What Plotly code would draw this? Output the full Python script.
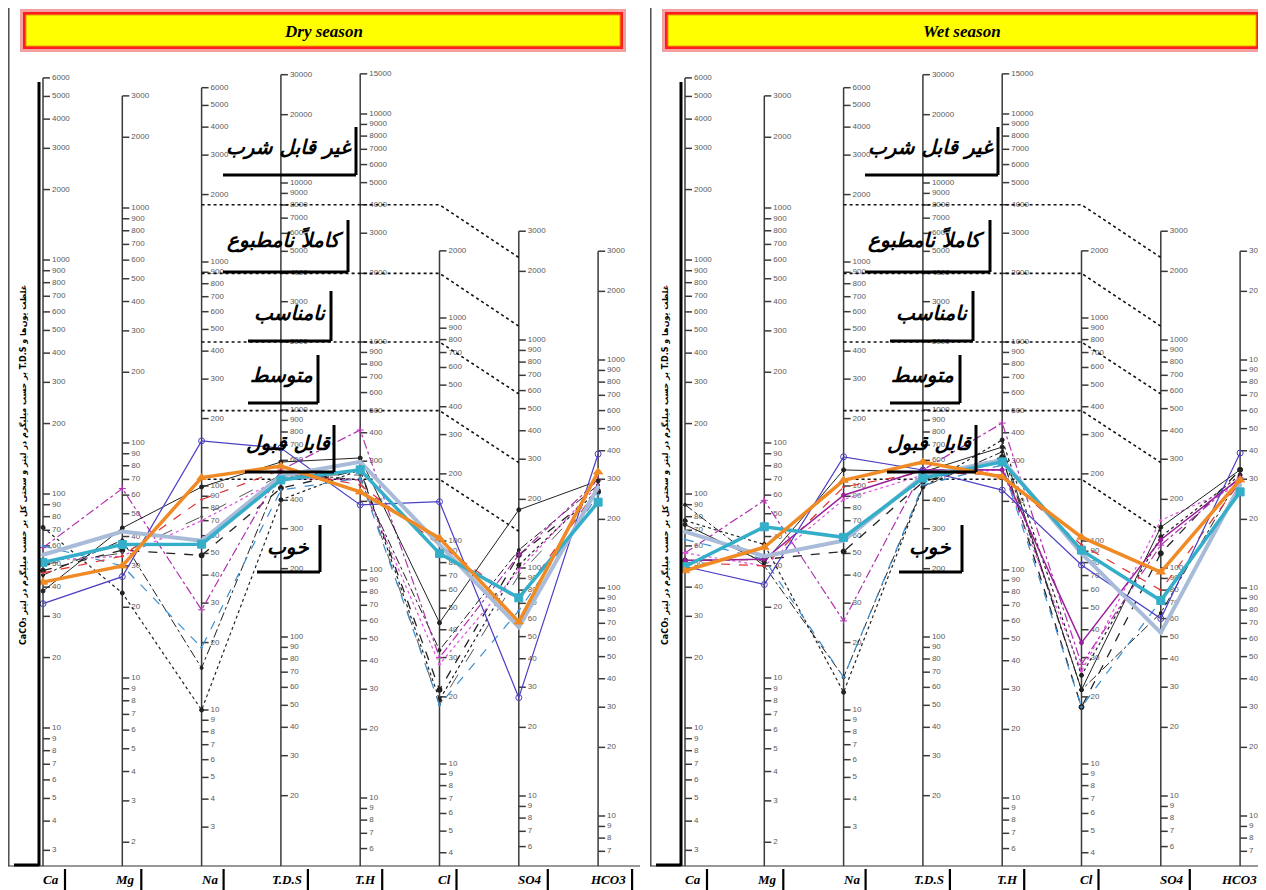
import math
import plotly.graph_objects as go

# ---------------- categories & axis scales ----------------
CATEGORIES = ["Ca", "Mg", "Na", "T.D.S", "T.H", "Cl", "SO4", "HCO3"]
# position (diagram units) of the 1000 mg/L tick and length of one decade, per axis
AXIS_REF_1000 = [260, 208, 262, 410, 342, 318, 340, 360]
AXIS_DECADE = [234, 235, 224, 227, 228, 223, 228, 228]
AXIS_X0, AXIS_STEP = 43, 79.3
PAGE_MARGIN = 8          # browser body margin around the figure
PANEL_SPLIT = 642
BOTTOM = 866

HUNDREDS = [1000, 900, 800, 700, 600, 500, 400, 300, 200]
TENS = [100, 90, 80, 70, 60, 50, 40, 30, 20]
TICKS_CA = [6000, 5000, 4000, 3000, 2000] + HUNDREDS + TENS + [10, 9, 8, 7, 6, 5, 4, 3]
TICKS_MG = [3000, 2000] + HUNDREDS + TENS + [10, 9, 8, 7, 6, 5, 4, 3, 2]
TICKS_NA = [6000, 5000, 4000, 3000, 2000] + HUNDREDS + TENS + [10, 9, 8, 7, 6, 5, 4, 3]
TICKS_TDS = [30000, 20000, 10000, 9000, 8000, 7000, 6000, 5000, 4000, 3000, 2000] + HUNDREDS + TENS
TICKS_TH = [15000, 10000, 9000, 8000, 7000, 6000, 5000, 4000, 3000, 2000] + HUNDREDS + TENS + [10, 9, 8, 7, 6]
TICKS_CL = [2000] + HUNDREDS + TENS + [10, 9, 8, 7, 6, 5, 4]
TICKS_SO4 = [3000, 2000] + HUNDREDS + TENS + [10, 9, 8, 7, 6]
TICKS_HCO3 = [3000, 2000] + HUNDREDS + TENS + [10, 9, 8, 7]
AXIS_TICKS = [TICKS_CA, TICKS_MG, TICKS_NA, TICKS_TDS, TICKS_TH, TICKS_CL, TICKS_SO4, TICKS_HCO3]

# potability class limits (mg/L) on T.H and SO4 axes
TH_LIMITS = [250, 500, 1000, 2000, 4000]
SO4_LIMITS = [145, 290, 580, 1150, 2300]

ZONE_LABELS = ["غیر قابل شرب", "کاملاً نامطبوع", "نامناسب", "متوسط", "قابل قبول", "خوب"]

TITLES = ["Dry season", "Wet season"]
Y_TITLE = "\u202bغلظت یون‌ها و T.D.S بر حسب میلیگرم در لیتر و سختی کل بر حسب میلیگرم در لیتر CaCO₃\u202c"

# ---------------- data (mg/L): Ca, Mg, Na, TDS, TH, Cl, SO4, HCO3 ----------------
DRY_ORANGE = [42, 30, 109, 566, 220, 103, 58, 323]
DRY_TEAL = [51, 37, 55, 492, 275, 88, 74, 238]
DRY_STEEL = [55, 42, 57, 512, 298, 96, 55, 277]
DRY_PURPLE = [34, 27, 159, 680, 193, 150, 27, 387]
DRY_BLACK = [38.5, 43.5, 99, 590, 310, 43, 180, 295]
DRY_BLACK_DOT = [72, 23, 10, 402, 275, 19.4, 103, 269]
DRY_BLACK_DASH = [47, 35, 49, 453, 275, 21.5, 114, 264]
DRY_BLACK_DASHDOT = [45, 38.6, 15.4, 533, 248, 32.4, 120, 283]
DRY_MAGENTA = [59, 64, 28, 544, 411, 30, 114, 298]
DRY_PINK = [52, 33, 70, 501, 248, 28, 98, 283]
DRY_SKY = [60, 30, 19, 444, 253, 18.4, 65, 256]
DRY_RED = [46, 33, 87, 544, 236, 96, 72, 275]
DRY_GRAY = [50, 34, 73, 517, 261, 18.4, 93, 269]

WET_ORANGE = [47, 36, 106, 590, 256, 104, 96, 298]
WET_TEAL = [49, 44, 59, 501, 298, 91, 72, 264]
WET_STEEL = [69, 33, 57, 512, 304, 88, 52, 283]
WET_PURPLE = [49, 25, 135, 544, 224, 78, 60, 391]
WET_PLUM = [52, 32, 91, 544, 275, 35, 133, 304]
WET_BLACK = [74, 31, 118, 533, 346, 21.5, 151, 330]
WET_BLACK_DOT = [77, 37, 12, 458, 372, 25, 137, 313]
WET_BLACK_DASH = [52, 32, 51, 482, 313, 18, 116, 330]
WET_BLACK_DASHDOT = [90, 30, 14, 458, 330, 21.5, 63.5, 310]
WET_MAGENTA = [56, 57, 25, 544, 441, 28, 126, 304]
WET_PINK = [56, 30, 87, 517, 275, 26, 162, 283]
WET_SKY = [64, 32, 14, 467, 289, 18, 72, 269]
WET_RED = [51, 30, 99, 533, 261, 96, 80, 292]

STYLES = {
    "orange": dict(color="#f08a24", width=3.5, dash="solid", symbol="triangle-up", size=8),
    "teal": dict(color="#35aec9", width=3.5, dash="solid", symbol="square", size=8),
    "steel": dict(color="#a8bbd8", width=4, dash="solid", symbol="circle", size=3),
    "purple": dict(color="#4a3fc4", width=1.2, dash="solid", symbol="circle-open", size=6),
    "plum": dict(color="#9a1f9a", width=1.5, dash="solid", symbol="circle", size=4),
    "black": dict(color="#222222", width=1, dash="solid", symbol="circle", size=4),
    "black_dot": dict(color="#222222", width=1.2, dash="dot", symbol="circle", size=4),
    "black_dash": dict(color="#222222", width=1.3, dash="dash", symbol="circle", size=5),
    "black_dashdot": dict(color="#222222", width=1, dash="dashdot", symbol="circle", size=3),
    "magenta": dict(color="#b030b0", width=1.2, dash="dashdot", symbol="cross-thin-open", size=5),
    "pink": dict(color="#e050e0", width=1.2, dash="dot", symbol="circle", size=2),
    "sky": dict(color="#3b8fd0", width=1.2, dash="dash", symbol="circle", size=2),
    "red": dict(color="#e03030", width=1.2, dash="dash", symbol="circle", size=2),
    "gray": dict(color="#555555", width=1, dash="longdash", symbol="circle", size=2),
}

DRY_SERIES = [("black_dot", DRY_BLACK_DOT), ("black_dash", DRY_BLACK_DASH),
              ("black_dashdot", DRY_BLACK_DASHDOT), ("gray", DRY_GRAY), ("magenta", DRY_MAGENTA),
              ("pink", DRY_PINK), ("sky", DRY_SKY), ("red", DRY_RED), ("black", DRY_BLACK),
              ("purple", DRY_PURPLE), ("steel", DRY_STEEL), ("teal", DRY_TEAL), ("orange", DRY_ORANGE)]
WET_SERIES = [("black_dot", WET_BLACK_DOT), ("black_dash", WET_BLACK_DASH),
              ("black_dashdot", WET_BLACK_DASHDOT), ("magenta", WET_MAGENTA), ("pink", WET_PINK),
              ("sky", WET_SKY), ("red", WET_RED), ("black", WET_BLACK), ("plum", WET_PLUM),
              ("purple", WET_PURPLE), ("steel", WET_STEEL), ("teal", WET_TEAL), ("orange", WET_ORANGE)]


def ypos(i, v):
    return AXIS_REF_1000[i] - AXIS_DECADE[i] * (math.log10(v) - 3)


def xpos(i):
    return AXIS_X0 + AXIS_STEP * i


fig = go.Figure()
shapes = []
annotations = []

for p in range(2):
    xa = "x" if p == 0 else "x2"
    right_edge = (PANEL_SPLIT if p == 0 else 1266 - PANEL_SPLIT)

    # --- axis lines and ticks ---
    lx, ly, tx, ty, txt = [], [], [], [], []
    for i, ticks in enumerate(AXIS_TICKS):
        x = xpos(i)
        lx += [x, x, None]
        ly += [ypos(i, max(ticks)), BOTTOM, None]
        for t in ticks:
            yt = ypos(i, t)
            lx += [x, x + 7, None]
            ly += [yt, yt, None]
            tx.append(x + 9)
            ty.append(yt)
            txt.append(str(t))
    fig.add_trace(go.Scatter(x=lx, y=ly, mode="lines", xaxis=xa, yaxis="y",
                             line=dict(color="#3a3a3a", width=1.5), hoverinfo="skip"))
    fig.add_trace(go.Scatter(x=tx, y=ty, mode="text", text=txt, textposition="middle right",
                             xaxis=xa, yaxis="y", hoverinfo="skip", cliponaxis=False,
                             textfont=dict(family="Liberation Sans", size=8, color="#5a5a5a")))

    # --- potability boundary dotted lines ---
    for thv, so4v in zip(TH_LIMITS, SO4_LIMITS):
        yth = ypos(4, thv)
        fig.add_trace(go.Scatter(x=[xpos(2), xpos(3), xpos(4), xpos(5), xpos(6)],
                                 y=[yth, yth, yth, yth, ypos(6, so4v)], mode="lines",
                                 xaxis=xa, yaxis="y", hoverinfo="skip",
                                 line=dict(color="#111111", width=1.6, dash="dot")))

    # --- zone labels with shadow boxes ---
    zone_text = [(289, 147), (285, 240), (290, 313), (281, 375), (288, 443), (288, 547)]
    zone_box = [(223, 356, 127, 175), (223, 348, 220, 272), (248, 331, 291, 341),
                (248, 318, 355, 403), (245, 334, 425, 472), (257, 320, 525, 572)]
    for lab, (cx, cy), (x0, x1, y0, y1) in zip(ZONE_LABELS, zone_text, zone_box):
        shapes.append(dict(type="line", xref=xa, yref="y", x0=x1, x1=x1, y0=y0, y1=y1,
                           line=dict(color="black", width=3)))
        shapes.append(dict(type="line", xref=xa, yref="y", x0=x0, x1=x1, y0=y1, y1=y1,
                           line=dict(color="black", width=3)))
        annotations.append(dict(x=cx, y=cy, xref=xa, yref="y", text="<b><i>" + lab + "</i></b>",
                                showarrow=False, font=dict(family="DejaVu Sans", size=20, color="black")))

    # --- data series ---
    series = DRY_SERIES if p == 0 else WET_SERIES
    for name, vals in series:
        st = STYLES[name]
        fig.add_trace(go.Scatter(
            x=[xpos(i) for i in range(len(CATEGORIES))],
            y=[ypos(i, v) for i, v in enumerate(vals)],
            mode="lines+markers", xaxis=xa, yaxis="y", hoverinfo="skip",
            line=dict(color=st["color"], width=st["width"], dash=st["dash"]),
            marker=dict(symbol=st["symbol"], size=st["size"], color=st["color"],
                        line=dict(color=st["color"], width=1))))

    # --- frame ---
    shapes.append(dict(type="line", xref=xa, yref="y", x0=8.8, x1=8.8, y0=8, y1=BOTTOM,
                       line=dict(color="#333333", width=1.3)))
    shapes.append(dict(type="line", xref=xa, yref="y", x0=8, x1=right_edge - 2, y0=BOTTOM, y1=BOTTOM,
                       line=dict(color="#333333", width=1.2)))
    # y-title shadow box
    shapes.append(dict(type="line", xref=xa, yref="y", x0=39, x1=39, y0=82, y1=BOTTOM,
                       line=dict(color="black", width=3)))
    shapes.append(dict(type="line", xref=xa, yref="y", x0=14, x1=39, y0=BOTTOM - 1, y1=BOTTOM - 1,
                       line=dict(color="black", width=3)))
    annotations.append(dict(x=23, y=465, xref=xa, yref="y", text="<b>" + Y_TITLE + "</b>", textangle=-90,
                            showarrow=False, font=dict(family="DejaVu Sans", size=8, color="black")))

    # --- title box ---
    bx1 = 626 if p == 0 else 620
    shapes.append(dict(type="rect", xref=xa, yref="y", x0=20, x1=bx1, y0=9, y1=52,
                       fillcolor="#f4a0a0", line=dict(width=0)))
    shapes.append(dict(type="rect", xref=xa, yref="y", x0=23, x1=bx1 - 3, y0=12, y1=49,
                       fillcolor="#ff1e1e", line=dict(width=0)))
    shapes.append(dict(type="rect", xref=xa, yref="y", x0=26, x1=bx1 - 6, y0=15, y1=46,
                       fillcolor="#ffff00", line=dict(color="#e8a000", width=1)))
    annotations.append(dict(x=(20 + bx1) / 2, y=31, xref=xa, yref="y",
                            text="<b><i>" + TITLES[p] + "</i></b>", showarrow=False,
                            font=dict(family="Liberation Serif", size=17, color="black")))

    # --- category labels ---
    sep_off = [22, 19, 22, 27, 22, 17, 29, 34]
    for i, cat in enumerate(CATEGORIES):
        sx = min(xpos(i) + sep_off[i], right_edge - 3)
        shapes.append(dict(type="line", xref=xa, yref="y", x0=sx, x1=sx, y0=BOTTOM + 3, y1=890,
                           line=dict(color="black", width=2.2)))
        annotations.append(dict(x=sx - 4, y=879, xref=xa, yref="y", text="<b><i>" + cat + "</i></b>",
                                xanchor="right", showarrow=False,
                                font=dict(family="Liberation Serif", size=13, color="black")))

fig_w = 1266 - PAGE_MARGIN
fig_h = 890 - PAGE_MARGIN
split = (PANEL_SPLIT - PAGE_MARGIN) / fig_w
fig.update_layout(
    width=fig_w, height=fig_h, margin=dict(l=0, r=0, t=0, b=0),
    paper_bgcolor="white", plot_bgcolor="white", showlegend=False, hovermode=False,
    xaxis=dict(domain=[0, split], range=[PAGE_MARGIN, PANEL_SPLIT], visible=False),
    xaxis2=dict(domain=[split, 1], range=[0, 1266 - PANEL_SPLIT], visible=False, anchor="y"),
    yaxis=dict(range=[890, PAGE_MARGIN], visible=False, domain=[0, 1]),
    shapes=shapes, annotations=annotations,
)

fig.write_html("out.html")
